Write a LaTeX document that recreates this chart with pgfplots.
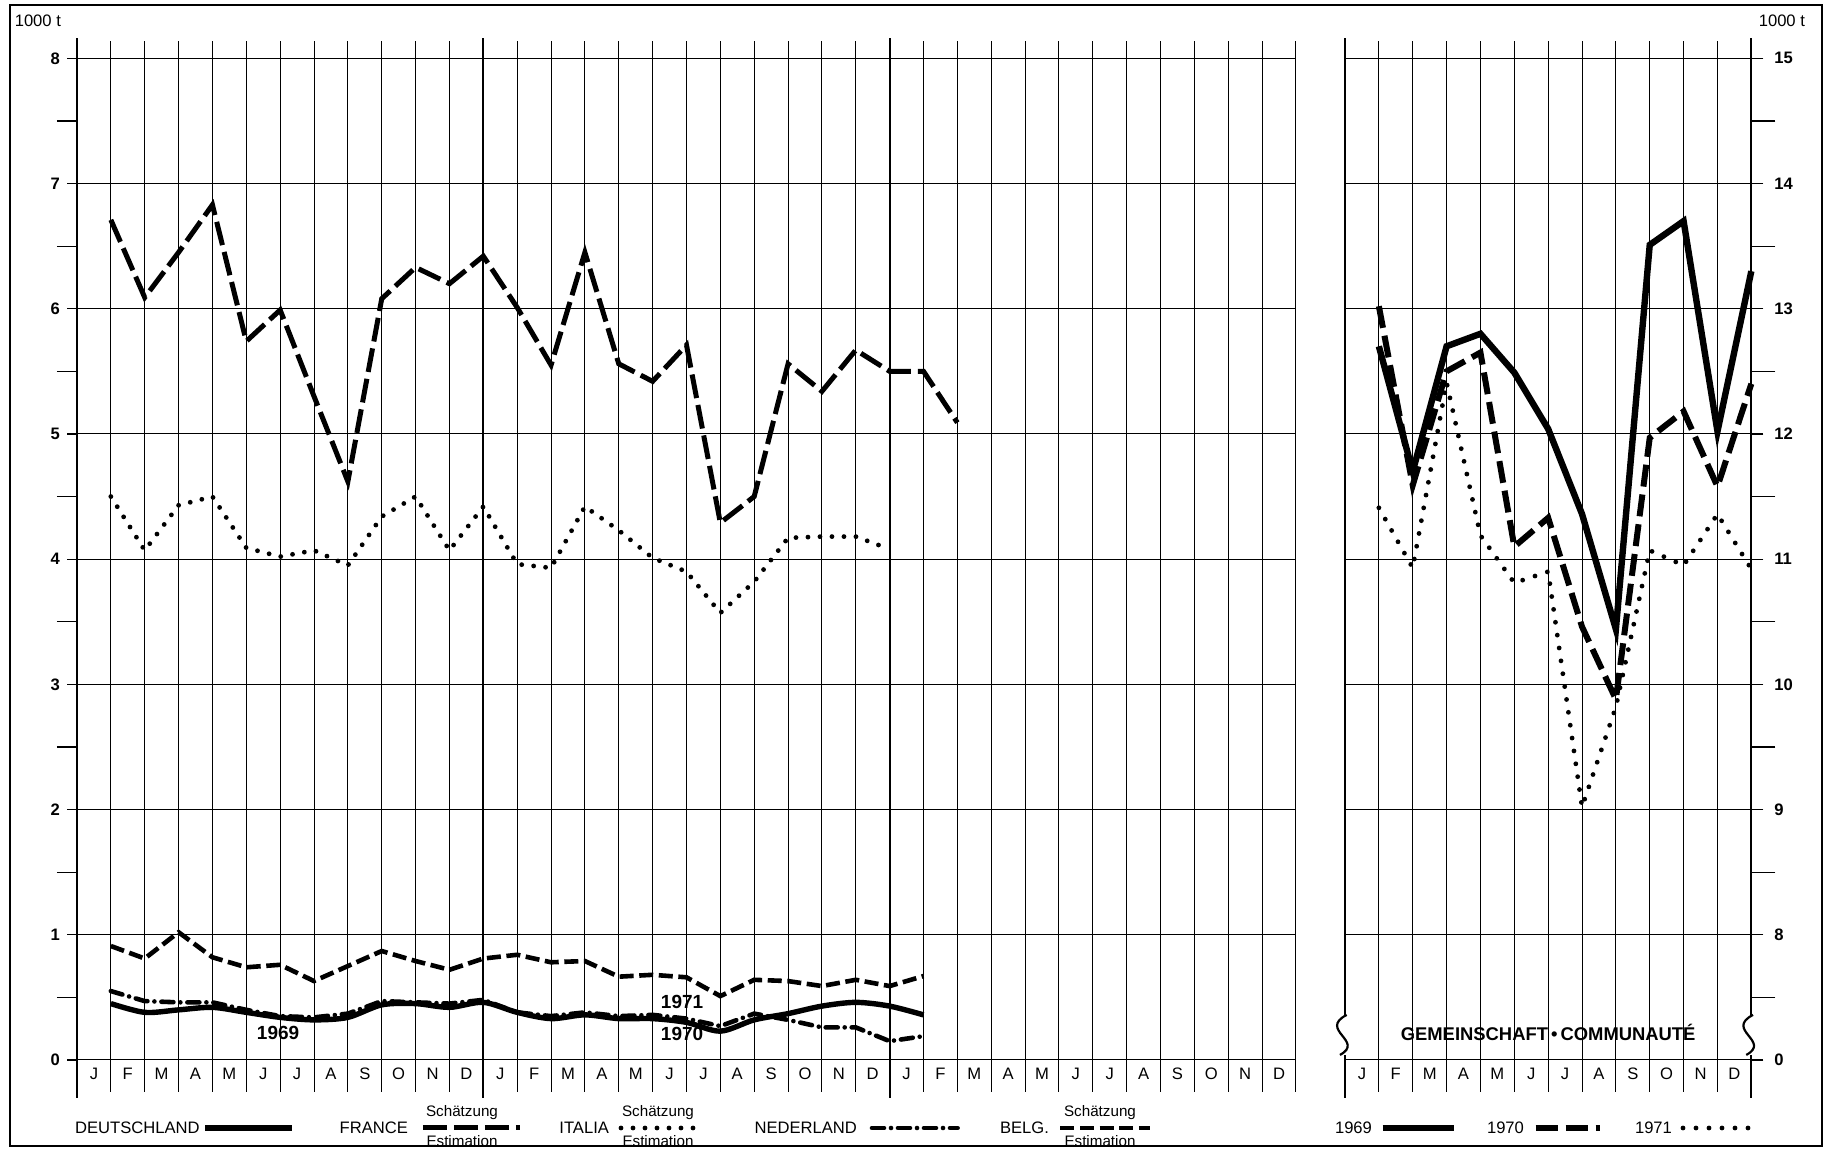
\documentclass[border=0pt]{standalone}
\usepackage{pgfplots}
\pgfplotsset{compat=1.18}
\usepackage{fontspec}
\setmainfont{Liberation Sans}
\newcommand\fs{\fontsize{8.3}{10}\selectfont}
\newcommand\fss{\fontsize{7.6}{9}\selectfont}
\tikzset{
  de/.style={line width=2.7pt},
  fr/.style={line width=2.5pt, dash pattern=on 12pt off 3.5pt},
  it/.style={line width=2.4pt, line cap=round, dash pattern=on 0pt off 6pt},
  nl/.style={line width=2.3pt, line cap=round, dash pattern=on 6pt off 3.5pt on 0pt off 3.5pt},
  be/.style={line width=2.3pt, dash pattern=on 7pt off 2.8pt},
  y69/.style={line width=3.2pt},
  y70/.style={line width=3pt, dash pattern=on 11pt off 4pt},
  y71/.style={line width=2.4pt, line cap=round, dash pattern=on 0pt off 6.5pt},
}
\begin{document}
\begin{tikzpicture}[x=1pt,y=1pt]
\fill[white] (0pt,0pt) rectangle (915.5pt,575.5pt);
\draw[line width=1pt] (5pt,2.5pt) rectangle (911pt,573pt);

% ---------------- left panel ----------------
\begin{axis}[
  at={(38.5pt,29.5pt)}, anchor=south west, scale only axis,
  x=16.93pt, y=62.6pt,
  xmin=0, xmax=36, ymin=-0.256, ymax=8.14,
  axis line style={draw=none},
  xtick={0,1,...,36}, xticklabels={}, xtick style={draw=none},
  xmajorgrids, ymajorgrids,
  major grid style={black, line width=0.5pt},
  ytick={0,1,...,8}, yticklabels={0,1,2,3,4,5,6,7,8},
  minor ytick={0.5,1.5,...,7.5},
  ytick pos=left, tick align=outside,
  major tick length=5pt, minor tick length=10pt,
  ytick style={black, line width=0.6pt},
  yticklabel style={font=\bfseries\fs},
  clip=false,
]
\draw[line width=1pt] (axis cs:0,-0.3) -- (axis cs:0,8.16);
\draw[line width=0.9pt] (axis cs:12,-0.3) -- (axis cs:12,8.16);
\draw[line width=0.9pt] (axis cs:24,-0.3) -- (axis cs:24,8.16);
\node[font=\bfseries\fontsize{9.5}{11}\selectfont] at (axis cs:17.87,0.21) {1970};
\node[font=\bfseries\fontsize{9.5}{11}\selectfont] at (axis cs:5.94,0.215) {1969};
\node[font=\bfseries\fontsize{9.5}{11}\selectfont] at (axis cs:17.87,0.465) {1971};
% France
\addplot[fr] coordinates {(1,6.71) (2,6.09) (3,6.45) (4,6.83) (5,5.74) (6,5.99) (7,5.30) (8,4.62) (9,6.08) (10,6.33) (11,6.20) (12,6.42) (13,6.01) (14,5.55) (15,6.45) (16,5.56) (17,5.42) (18,5.71) (19,4.29) (20,4.50) (21,5.56) (22,5.34) (23,5.67) (24,5.50) (25,5.50) (26,5.09)};
% Italia
\addplot[it] coordinates {(1,4.50) (2,4.07) (3,4.43) (4,4.50) (5,4.09) (6,4.02) (7,4.07) (8,3.95) (9,4.34) (10,4.50) (11,4.07) (12,4.42) (13,3.96) (14,3.93) (15,4.42) (16,4.23) (17,4.01) (18,3.90) (19,3.57) (20,3.82) (21,4.17) (22,4.18) (23,4.18) (24,4.08)};
% Belgique
\addplot[be] coordinates {(1,0.91) (2,0.81) (3,1.02) (4,0.82) (5,0.74) (6,0.76) (7,0.63) (8,0.75) (9,0.87) (10,0.79) (11,0.72) (12,0.81) (13,0.84) (14,0.78) (15,0.79) (16,0.665) (17,0.68) (18,0.66) (19,0.51) (20,0.64) (21,0.63) (22,0.59) (23,0.64) (24,0.59) (25,0.67)};
% Nederland
\addplot[nl] coordinates {(1,0.55) (2,0.47) (3,0.46) (4,0.46) (5,0.40) (6,0.35) (7,0.34) (8,0.37) (9,0.47) (10,0.46) (11,0.45) (12,0.48) (13,0.38) (14,0.35) (15,0.38) (16,0.35) (17,0.36) (18,0.33) (19,0.27) (20,0.37) (21,0.32) (22,0.26) (23,0.26) (24,0.15) (25,0.19)};
% Deutschland
\addplot[de, smooth, tension=0.5] coordinates {(1,0.45) (2,0.38) (3,0.40) (4,0.42) (5,0.38) (6,0.34) (7,0.32) (8,0.34) (9,0.44) (10,0.45) (11,0.42) (12,0.46) (13,0.38) (14,0.33) (15,0.36) (16,0.33) (17,0.33) (18,0.30) (19,0.23) (20,0.32) (21,0.37) (22,0.43) (23,0.46) (24,0.43) (25,0.36)};
\end{axis}

% ---------------- right panel ----------------
\begin{axis}[
  at={(672.5pt,29.5pt)}, anchor=south west, scale only axis,
  x=16.93pt, y=62.6pt,
  xmin=0, xmax=12, ymin=6.744, ymax=15.14,
  axis line style={draw=none},
  xtick={0,1,...,12}, xticklabels={}, xtick style={draw=none},
  xmajorgrids, ymajorgrids,
  major grid style={black, line width=0.5pt},
  ytick={7,8,...,15}, yticklabels={0,8,9,10,11,12,13,14,15},
  minor ytick={7.5,8.5,...,14.5},
  ytick pos=right, yticklabel pos=right, tick align=outside,
  major tick length=6pt, minor tick length=12pt,
  ytick style={black, line width=0.6pt},
  yticklabel style={font=\bfseries\fs, xshift=2pt},
  clip=false,
]
\draw[line width=1pt] (axis cs:0,6.7) -- (axis cs:0,15.16);
\draw[line width=1pt] (axis cs:12,6.7) -- (axis cs:12,15.16);
% breaks
\fill[white] (axis cs:-0.45,7.04) rectangle (axis cs:0.15,7.36);
\fill[white] (axis cs:11.55,7.04) rectangle (axis cs:12.15,7.36);
\draw[line width=1.1pt] (axis cs:0.05,7.36) .. controls (axis cs:-0.8,7.24) and (axis cs:0.6,7.15) .. (axis cs:-0.15,7.04);
\draw[line width=1.1pt] (axis cs:12.05,7.36) .. controls (axis cs:11.2,7.24) and (axis cs:12.6,7.15) .. (axis cs:11.85,7.04);
\node[font=\bfseries\fontsize{9.2}{11}\selectfont] at (axis cs:6,7.22) {GEMEINSCHAFT\,•\,COMMUNAUTÉ};
% 1969
\addplot[y69] coordinates {(1,12.70) (2,11.70) (3,12.70) (4,12.80) (5,12.49) (6,12.04) (7,11.36) (8,10.44) (9,13.51) (10,13.70) (11,12.02) (12,13.30)};
% 1970
\addplot[y70] coordinates {(1,13.02) (2,11.59) (3,12.50) (4,12.65) (5,11.10) (6,11.33) (7,10.46) (8,9.88) (9,11.97) (10,12.18) (11,11.58) (12,12.40)};
% 1971
\addplot[y71] coordinates {(1,11.41) (2,10.93) (3,12.41) (4,11.19) (5,10.81) (6,10.90) (7,9.02) (8,9.82) (9,11.07) (10,10.95) (11,11.36) (12,10.92)};
\end{axis}

% month labels
\foreach \m [count=\i from 0] in {J,F,M,A,M,J,J,A,S,O,N,D,J,F,M,A,M,J,J,A,S,O,N,D,J,F,M,A,M,J,J,A,S,O,N,D}
  \node[font=\fs] at ({38.5+(\i+0.5)*16.93},38.4) {\m};
\foreach \m [count=\i from 0] in {J,F,M,A,M,J,J,A,S,O,N,D}
  \node[font=\fs] at ({672.5+(\i+0.5)*16.93},38.4) {\m};

% units
\node[anchor=east, font=\fs] at (34pt,565pt) {1000 t};
\node[anchor=east, font=\fs] at (906pt,565pt) {1000 t};

% legend
\node[anchor=west, font=\fs] at (34pt,11.5pt) {DEUTSCHLAND};
\draw[de] (102.5pt,11.5pt) -- (146pt,11.5pt);
\node[anchor=east, font=\fs] at (207.5pt,11.5pt) {FRANCE};
\draw[fr] (211.4pt,11.5pt) -- (259.8pt,11.5pt);
\node[font=\fss] at (231pt,19pt) {Schätzung};
\node[font=\fss] at (231pt,5pt) {Estimation};
\node[anchor=east, font=\fs] at (308pt,11.5pt) {ITALIA};
\draw[it] (310.5pt,11.5pt) -- (350.3pt,11.5pt);
\node[font=\fss] at (329pt,19pt) {Schätzung};
\node[font=\fss] at (329pt,5pt) {Estimation};
\node[anchor=east, font=\fs] at (432pt,11.5pt) {NEDERLAND};
\draw[nl] (436pt,11.5pt) -- (478.8pt,11.5pt);
\node[anchor=east, font=\fs] at (528pt,11.5pt) {BELG.};
\draw[be] (530.2pt,11.5pt) -- (575.1pt,11.5pt);
\node[font=\fss] at (550pt,19pt) {Schätzung};
\node[font=\fss] at (550pt,5pt) {Estimation};
\node[anchor=east, font=\fs] at (689.5pt,11.5pt) {1969};
\draw[y69] (691.3pt,11.5pt) -- (727pt,11.5pt);
\node[anchor=east, font=\fs] at (765.5pt,11.5pt) {1970};
\draw[y70] (767.8pt,11.5pt) -- (800pt,11.5pt);
\node[anchor=east, font=\fs] at (839.5pt,11.5pt) {1971};
\draw[y71] (841.5pt,11.5pt) -- (878.8pt,11.5pt);

\pgfresetboundingbox
\useasboundingbox (0pt,0pt) rectangle (915.5pt,575.5pt);
\end{tikzpicture}
\end{document}
